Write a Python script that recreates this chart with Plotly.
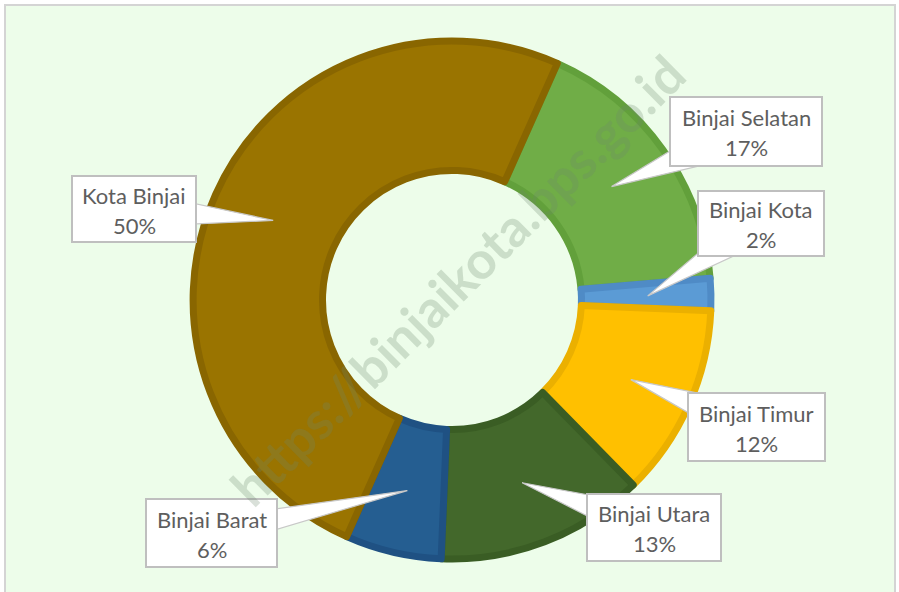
import math
import plotly.graph_objects as go

# ---- data ----
labels = ["Binjai Selatan", "Binjai Kota", "Binjai Timur", "Binjai Utara", "Binjai Barat", "Kota Binjai"]
values = [17, 2, 12, 13, 6, 50]
fill_colors = ["#70AD47", "#5B9BD5", "#FFC000", "#43682B", "#255E91", "#9A7400"]
line_colors = ["#62A03B", "#4F8BC6", "#EBB000", "#3A5D24", "#1F5183", "#896600"]

# ---- layout geometry (pixels) ----
W, H = 899, 592
CX, CY, R_OUT, HOLE = 452, 300, 259, 0.5
ROTATION = 24

def px(x):
    return x / W

def py(y):
    return 1 - y / H

# callout boxes: (center x, center y, width, height) in pixels, same order as labels
boxes = [
    (746, 131.5, 152, 69),
    (761, 223.5, 126, 65),
    (756.5, 427, 137, 68),
    (654, 527.5, 134, 67),
    (211.5, 533, 131, 68),
    (134, 209, 124, 66),
]

fig = go.Figure()
fig.add_trace(go.Pie(
    labels=labels,
    values=values,
    sort=False,
    direction="clockwise",
    rotation=ROTATION,
    hole=HOLE,
    marker=dict(colors=fill_colors, line=dict(color=line_colors, width=7)),
    textinfo="none",
    hoverinfo="label+percent",
    showlegend=False,
    domain=dict(x=[px(CX - R_OUT), px(CX + R_OUT)], y=[py(CY + R_OUT), py(CY - R_OUT)]),
))

shapes = [
    dict(type="rect", xref="paper", yref="paper", x0=px(5), x1=px(895), y0=-0.02, y1=py(5),
         fillcolor="#EDFDEA", line=dict(color="#D4D4D4", width=2), layer="below"),
]
annotations = []

total = sum(values)
r_mid = (R_OUT + 2) * (1 + HOLE) / 2
cum = 0
for lab, v, (bx, by, bw, bh) in zip(labels, values, boxes):
    mid = math.radians(ROTATION + 360 * (cum + v / 2) / total)
    cum += v
    tx = CX + r_mid * math.sin(mid)
    ty = CY - r_mid * math.cos(mid)
    # pointer wedge from tip to box centre
    vx, vy = bx - tx, by - ty
    dist = math.hypot(vx, vy)
    s = min((bw / 2) / max(abs(vx), 1e-6), (bh / 2) / max(abs(vy), 1e-6))
    frac_edge = max(1 - s, 0.05)
    hw = 10 / frac_edge
    nx, ny = -vy / dist, vx / dist
    p1 = (bx + nx * hw, by + ny * hw)
    p2 = (bx - nx * hw, by - ny * hw)
    path = "M {} {} L {} {} L {} {} Z".format(px(tx), py(ty), px(p1[0]), py(p1[1]), px(p2[0]), py(p2[1]))
    shapes.append(dict(type="path", xref="paper", yref="paper", path=path,
                       fillcolor="#FFFFFF", line=dict(color="#C8C8C8", width=1.2), layer="above"))
    shapes.append(dict(type="rect", xref="paper", yref="paper",
                       x0=px(bx - bw / 2), x1=px(bx + bw / 2), y0=py(by + bh / 2), y1=py(by - bh / 2),
                       fillcolor="#FFFFFF", line=dict(color="#BFBFBF", width=2), layer="above"))
    pct = round(100 * v / total)
    for txt, off in ((lab, -14), (f"{pct}%", 16)):
        annotations.append(dict(xref="paper", yref="paper", x=px(bx), y=py(by + off),
                                text=txt, showarrow=False, xanchor="center", yanchor="middle",
                                font=dict(family="Lato", size=22, color="#5E5E5E")))

# watermark
annotations.append(dict(xref="paper", yref="paper", x=px(457), y=py(280),
                        text="https://binjaikota.bps.go.id", showarrow=False, textangle=-44.7,
                        xanchor="center", yanchor="middle",
                        font=dict(family="Lato", size=52, color="rgba(110,135,110,0.26)", weight="bold")))

fig.update_layout(
    width=W, height=H,
    margin=dict(l=0, r=0, t=0, b=0),
    paper_bgcolor="#FFFFFF",
    plot_bgcolor="#FFFFFF",
    shapes=shapes,
    annotations=annotations,
)

fig.write_html("out.html", config={"displayModeBar": False},
               post_script="document.body.style.margin='0px';document.body.style.overflow='hidden';")
